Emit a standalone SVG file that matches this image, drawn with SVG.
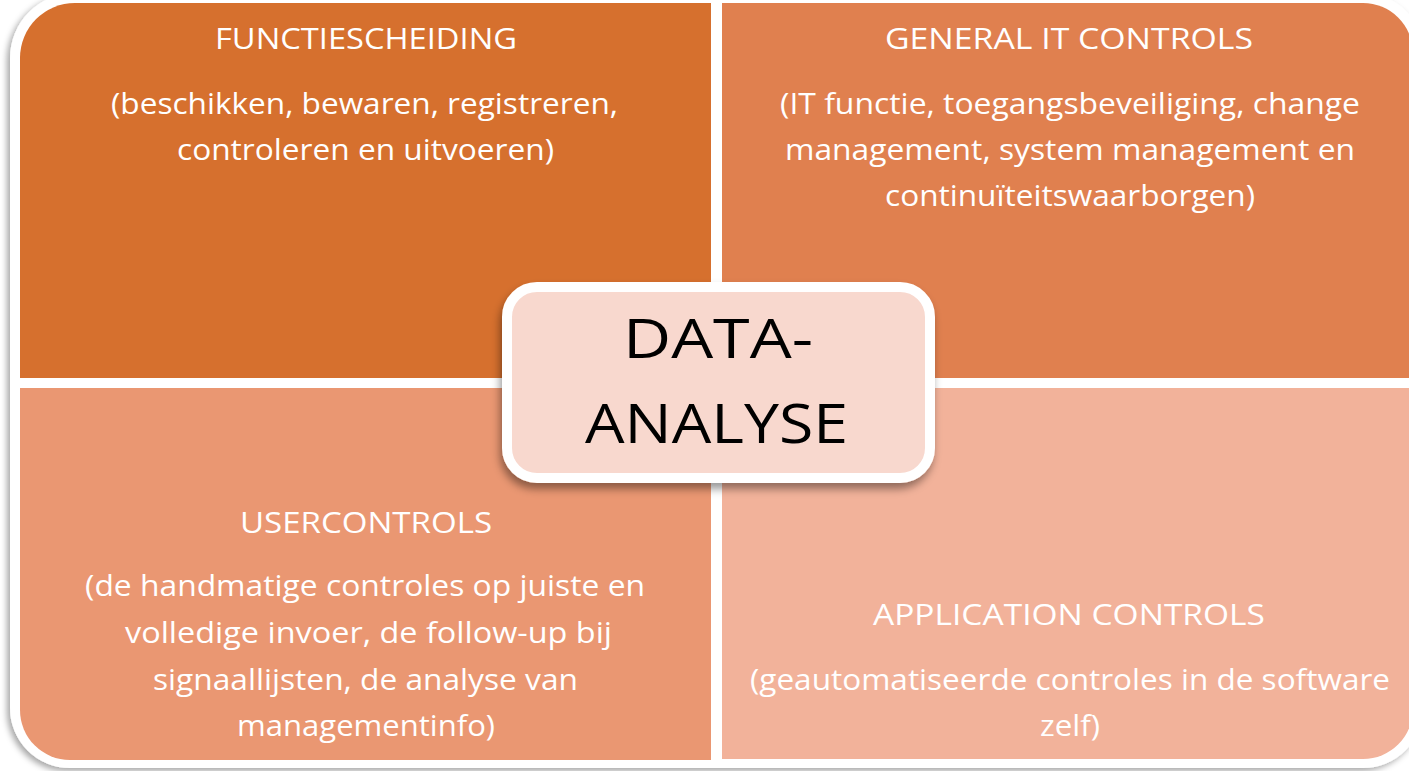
<svg xmlns="http://www.w3.org/2000/svg" width="1409" height="771" viewBox="0 0 1409 771">
  <defs>
    <filter id="frameShadow" x="-5%" y="-5%" width="110%" height="110%">
      <feDropShadow dx="-3" dy="3" stdDeviation="3" flood-color="#000" flood-opacity="0.35"/>
    </filter>
    <filter id="boxShadow" x="-10%" y="-10%" width="120%" height="130%">
      <feDropShadow dx="-2" dy="6" stdDeviation="4" flood-color="#000" flood-opacity="0.4"/>
    </filter>
    <style>
      .q { stroke: none; }
      .t { font-family: "Open Sans", "Noto Sans", "DejaVu Sans", sans-serif; font-size: 29px; fill: #FFFFFF; text-anchor: middle; }
      .c { font-family: "Open Sans", "Noto Sans", "DejaVu Sans", sans-serif; font-size: 54px; fill: #000000; text-anchor: middle; }
    </style>
  </defs>
  <rect x="0" y="0" width="1409" height="771" fill="#FFFFFF"/>
  <path id="frame" d="M10,58 A65,65 0 0 1 75,-7 H1363 A60,60 0 0 1 1423,53 V708 A60,60 0 0 1 1363,768 H70 A60,60 0 0 1 10,708 Z" fill="#FFFFFF" filter="url(#frameShadow)"/>

  <g id="functiescheiding">
    <path class="q" d="M20,378 V58 A55,55 0 0 1 75,3 H711 V378 Z" fill="#D6702E"/>
    <text class="t" x="366" y="49" textLength="302" lengthAdjust="spacingAndGlyphs">FUNCTIESCHEIDING</text>
    <text class="t" x="364.5" y="114" textLength="507" lengthAdjust="spacingAndGlyphs">(beschikken, bewaren, registreren,</text>
    <text class="t" x="365.5" y="160" textLength="377" lengthAdjust="spacingAndGlyphs">controleren en uitvoeren)</text>
  </g>

  <g id="general-it-controls">
    <path class="q" d="M722,3 H1363 A50,50 0 0 1 1413,53 V378 H722 Z" fill="#E0804F"/>
    <text class="t" x="1069" y="49" textLength="368" lengthAdjust="spacingAndGlyphs">GENERAL IT CONTROLS</text>
    <text class="t" x="1070" y="114" textLength="580" lengthAdjust="spacingAndGlyphs">(IT functie, toegangsbeveiliging, change</text>
    <text class="t" x="1070" y="160" textLength="570" lengthAdjust="spacingAndGlyphs">management, system management en</text>
    <text class="t" x="1070" y="206" textLength="370" lengthAdjust="spacingAndGlyphs">continuïteitswaarborgen)</text>
  </g>

  <g id="usercontrols">
    <path class="q" d="M20,388 H711 V760 H70 A50,50 0 0 1 20,710 Z" fill="#EA9772"/>
    <text class="t" x="366" y="533" textLength="252" lengthAdjust="spacingAndGlyphs">USERCONTROLS</text>
    <text class="t" x="365" y="596" textLength="560" lengthAdjust="spacingAndGlyphs">(de handmatige controles op juiste en</text>
    <text class="t" x="368.5" y="643" textLength="487" lengthAdjust="spacingAndGlyphs">volledige invoer, de follow-up bij</text>
    <text class="t" x="365.5" y="690" textLength="425" lengthAdjust="spacingAndGlyphs">signaallijsten, de analyse van</text>
    <text class="t" x="366" y="736" textLength="258" lengthAdjust="spacingAndGlyphs">managementinfo)</text>
  </g>

  <g id="application-controls">
    <path class="q" d="M722,388 H1413 V709 A50,50 0 0 1 1363,759 H722 Z" fill="#F2B29A"/>
    <text class="t" x="1069" y="625" textLength="392" lengthAdjust="spacingAndGlyphs">APPLICATION CONTROLS</text>
    <text class="t" x="1070" y="690" textLength="640" lengthAdjust="spacingAndGlyphs">(geautomatiseerde controles in de software</text>
    <text class="t" x="1070" y="736" textLength="60" lengthAdjust="spacingAndGlyphs">zelf)</text>
  </g>

  <g id="connectors"></g>

  <g id="data-analyse">
    <rect x="507" y="287" width="423" height="191" rx="30" ry="30" fill="#F8D8CE" stroke="#FFFFFF" stroke-width="10" filter="url(#boxShadow)"/>
    <text class="c" x="718" y="358" textLength="190" lengthAdjust="spacingAndGlyphs">DATA-</text>
    <text class="c" x="716.5" y="443" textLength="263" lengthAdjust="spacingAndGlyphs">ANALYSE</text>
  </g>
</svg>
